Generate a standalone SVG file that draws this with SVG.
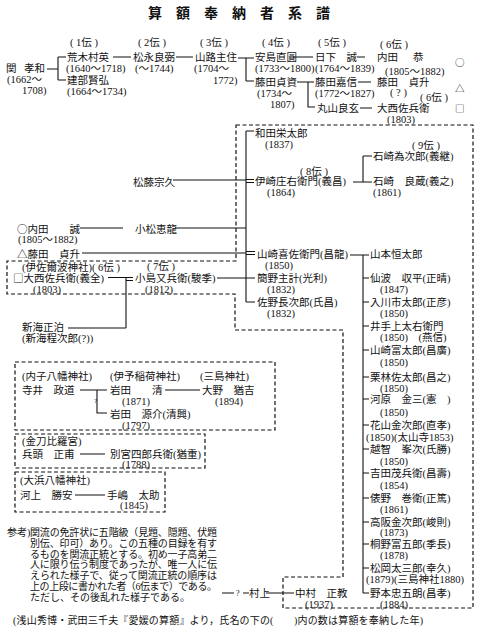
<svg xmlns="http://www.w3.org/2000/svg" width="480" height="636" viewBox="0 0 480 636">
<style>
text{font-family:"Liberation Serif","Noto Sans CJK JP",serif;font-size:10.5px;fill:#111}
.ti{font-family:"Noto Sans CJK JP",sans-serif;font-size:14px;font-weight:bold}
.p{font-size:10px}
.q{font-size:7px}
.sym{font-family:"Noto Sans CJK JP",sans-serif;font-size:9.5px}
.cj{font-family:"Noto Sans CJK JP",sans-serif}
.c{stroke:#111;stroke-width:1.1;fill:none}
.d{stroke:#111;stroke-width:1.2;stroke-dasharray:4 2.5;fill:none}
</style>
<rect width="480" height="636" fill="#fff"/>
<g id="title"><text class="ti" x="148 176 204 232 260 288 316" y="17.5">算額奉納者系譜</text></g>

<g id="frames">
<path class="d" d="M236,125H473V608H283V577H343V330H235V294H7V261H236Z"/>
<rect class="d" x="15" y="362" width="260" height="68"/>
<rect class="d" x="15" y="434" width="190" height="34"/>
<rect class="d" x="15" y="472" width="150" height="40"/>
</g>

<g id="connectors">
<path class="c" d="M47,69H58M58,57V80M58,57H66M58,80H66M113,57H131M176,57H193M238,58H254M246,58V81M246,81H254M293,57H313M357,57H365M297,82H314M308,82V107H315M358,82H371M360,108H372"/>
<path class="c" d="M246,131V302M246,131H254M173,180H246M246,179.5H254M246,182.5H254M80,228H123M175,228H246M82,253H246M246,251.5H255M246,254.5H255M217,278H255M246,302H255M353,182H372M363,156V182M363,156H372"/>
<path class="c" d="M108,277.5H133M126,280.5H133M126,277.5V328M68,328H126"/>
<path class="c" d="M350,255H369M363,255V593M363,278H369M363,302H369M363,326H369M363,350H369M363,377H369M363,399H369M363,425H369M363,449H369M363,473H369M363,498H369M363,522H369M363,544H369M363,568H369M363,593H369"/>
<path class="c" d="M80,390H107M97,390V413H107M165,390H200M80,454H105M75,495H105M222,593H234M243,593H249M266,593H294"/>
</g>

<g id="gen-labels">
<text x="70" y="46">( 1伝 )</text>
<text x="138" y="46">( 2伝 )</text>
<text x="200" y="46">( 3伝 )</text>
<text x="262" y="46">( 4伝 )</text>
<text x="318" y="46">( 5伝 )</text>
<text x="380" y="48">( 6伝 )</text>
<text x="420" y="101">( 6伝 )</text>
<text x="300" y="175">( 8伝 )</text>
<text x="412" y="149">( 9伝 )</text>
<text x="147" y="270">( 7伝 )</text>
</g>

<g id="n-seki"><text x="6" y="72">関</text><text x="24" y="72">孝和</text><text x="7" y="83">(1662〜</text><text x="22" y="93.5">1708)</text></g>
<g id="n-araki"><text x="67" y="61">荒木村英</text><text x="66" y="72">(1640〜1718)</text></g>
<g id="n-takebe"><text x="67" y="84">建部賢弘</text><text x="67" y="95">(1664〜1734)</text></g>
<g id="n-matsunaga"><text x="133" y="61">松永良弼</text><text x="135" y="72">(〜1744)</text></g>
<g id="n-yamaji"><text x="195" y="61">山路主住</text><text x="194" y="72">(1704〜</text><text x="213" y="84">1772)</text></g>
<g id="n-ajima"><text x="255" y="61">安島直圓</text><text x="255" y="72">(1733〜1800)</text></g>
<g id="n-kusaka"><text x="315" y="61">日下　誠</text><text x="315" y="72">(1764〜1839)</text></g>
<g id="n-uchida-kyo"><text x="377" y="61">内田<tspan x="413">恭</tspan></text><text x="385" y="75">(1805〜1882)</text></g>
<g id="n-fujita-sadasuke"><text x="255" y="86">藤田貞資</text><text x="257" y="97">(1734〜</text><text x="270" y="107.5">1807)</text></g>
<g id="n-fujita-yoshinobu"><text x="315" y="86">藤田嘉信</text><text x="315" y="97">(1772〜1827)</text></g>
<g id="n-fujita-sadamasu"><text x="377" y="85.5">藤田　貞升</text><text x="390" y="96">( ? )</text></g>
<g id="n-maruyama"><text x="317" y="112">丸山良玄</text></g>
<g id="n-onishi"><text x="377" y="112">大西佐兵衛</text><text x="387" y="122.5">(1803)</text></g>
<g id="legend"><text class="sym" x="455" y="65.5">○</text><text class="sym" x="455" y="91.5">△</text><text class="sym" x="455" y="111.5">□</text></g>

<g id="n-matsufuji"><text x="133" y="186">松藤宗久</text></g>
<g id="n-uchida-makoto"><text x="17" y="232.5"><tspan class="cj">○</tspan>内田　　誠</text><text x="18" y="243">(1805〜1882)</text></g>
<g id="n-komatsu"><text x="135" y="232.5">小松恵龍</text></g>
<g id="n-fujita-sadamasu2"><text x="17" y="257.5"><tspan class="cj">△</tspan>藤田　貞升</text></g>
<g id="n-isaniwa"><text x="22" y="271">(伊佐爾波神社)( 6伝 )</text><text x="13" y="282"><tspan class="cj">□</tspan>大西佐兵衛(義全)</text><text x="33" y="292.5">(1803)</text></g>
<g id="n-kojima"><text x="135" y="282">小島又兵衛(駿季)</text><text x="145" y="292.5">(1812)</text></g>
<g id="n-shinkai"><text x="22" y="331">新海正泊</text><text x="22" y="342">(新海程次郎(?))</text></g>

<g id="n-wada"><text x="255" y="137">和田栄太郎</text><text x="265" y="147.5">(1837)</text></g>
<g id="n-izaki"><text x="255" y="185">伊崎庄右衛門(義昌)</text><text x="267" y="195.5">(1864)</text></g>
<g id="n-ishizaki1"><text x="373" y="160">石崎為次郎(義継)</text></g>
<g id="n-ishizaki2"><text x="373" y="185">石崎　良蔵(義之)</text><text x="373" y="195.5">(1861)</text></g>
<g id="n-yamazaki-kisa"><text x="257" y="258">山崎喜佐衛門(昌龍)</text><text x="265" y="269">(1850)</text></g>
<g id="n-kanno"><text x="257" y="282">簡野主計(光利)</text><text x="267" y="293">(1832)</text></g>
<g id="n-sano"><text x="257" y="306">佐野長次郎(氏昌)</text><text x="267" y="316.5">(1832)</text></g>

<g id="n-yamamoto"><text x="370" y="258">山本恒太郎</text></g>
<g id="n-senba"><text x="370" y="282">仙波　収平(正晴)</text><text x="380" y="293">(1847)</text></g>
<g id="n-irikawa"><text x="370" y="306">入川市太郎(正彦)</text><text x="380" y="317">(1850)</text></g>
<g id="n-idegami"><text x="370" y="330">井手上太右衛門</text><text x="380" y="341">(1850)　(燕信)</text></g>
<g id="n-yamazaki-tomi"><text x="370" y="354">山崎富太郎(昌廣)</text><text x="380" y="366">(1850)</text></g>
<g id="n-kuribayashi"><text x="370" y="381">栗林佐太郎(昌之)</text><text x="380" y="391.5">(1850)</text></g>
<g id="n-kawahara"><text x="370" y="403">河原　金三(憲　)</text><text x="380" y="416">(1850)</text></g>
<g id="n-hanayama"><text x="370" y="429">花山金次郎(直孝)</text><text x="366" y="441">(1850)(太山寺1853)</text></g>
<g id="n-ochi"><text x="370" y="453">越智　峯次(氏勝)</text><text x="380" y="465">(1850)</text></g>
<g id="n-yoshida"><text x="370" y="477">吉田茂兵衛(昌壽)</text><text x="380" y="489">(1854)</text></g>
<g id="n-tawarano"><text x="370" y="502">俵野　巻衛(正篤)</text><text x="380" y="513">(1861)</text></g>
<g id="n-kosaka"><text x="370" y="525.5">高阪金次郎(峻則)</text><text x="380" y="536">(1873)</text></g>
<g id="n-kirino"><text x="370" y="548">桐野富五郎(季長)</text><text x="380" y="559">(1878)</text></g>
<g id="n-matsuoka"><text x="370" y="572">松岡太三郎(幸久)</text><text x="366" y="583">(1879)(三島神社1880)</text></g>
<g id="n-nomoto"><text x="370" y="597">野本忠五朗(昌孝)</text><text x="380" y="607.5">(1884)</text></g>

<g id="n-uchiko">
<text x="22" y="380">(内子八幡神社)</text><text x="110" y="380">(伊予稲荷神社)</text><text x="200" y="380">(三島神社)</text>
<text x="22" y="394">寺井　政道</text><text x="110" y="394">岩田　　清</text><text x="202" y="394">大野　猶吉</text>
<text class="q" x="94" y="403">?</text>
<text x="122" y="404.5">(1871)</text><text x="215" y="404.5">(1894)</text>
<text x="110" y="418">岩田　源介(清興)</text><text x="122" y="428.5">(1797)</text>
</g>
<g id="n-kotohira">
<text x="22" y="445">(金刀比羅宮)</text>
<text x="22" y="458">兵頭　正甫</text><text x="110" y="458">別宮四郎兵衛(猶重)</text><text x="122" y="468">(1788)</text>
</g>
<g id="n-ohama">
<text x="20" y="484">(大浜八幡神社)</text>
<text x="20" y="498.5">河上　勝安</text><text x="107" y="498.5">手嶋　太助</text><text x="120" y="509">(1845)</text>
</g>

<g id="n-nakamura">
<text class="q" x="236" y="596" style="font-size:8px">?</text>
<text x="249" y="597">村上</text>
<text x="295" y="597">中村　正教</text><text x="305" y="607.5">(1937)</text>
</g>

<g id="note">
<text class="p" x="7" y="535.8">参考)</text>
<text class="p" x="30" y="535.8" textLength="187" lengthAdjust="spacing">関流の免許状に五階級（見題、隠題、伏題</text>
<text class="p" x="30" y="546.6" textLength="187" lengthAdjust="spacing">別伝、印可）あり。この五種の目録を有す</text>
<text class="p" x="30" y="557.5" textLength="187" lengthAdjust="spacing">るものを関流正統とする。初め一子高弟二</text>
<text class="p" x="30" y="568.3" textLength="187" lengthAdjust="spacing">人に限り伝う制度であったが、唯一人に伝</text>
<text class="p" x="30" y="579.1" textLength="187" lengthAdjust="spacing">えられた様子で、従って関流正統の順序は</text>
<text class="p" x="30" y="590" textLength="187" lengthAdjust="spacing">上の上段に書かれた者（6伝まで）である。</text>
<text class="p" x="30" y="600.8">ただし、その後乱れた様子である。</text>
</g>
<g id="source"><text class="p" x="13" y="624" textLength="410" lengthAdjust="spacing">(浅山秀博・武田三千夫『愛媛の算額』より，氏名の下の(　　)内の数は算額を奉納した年)</text></g>
</svg>
